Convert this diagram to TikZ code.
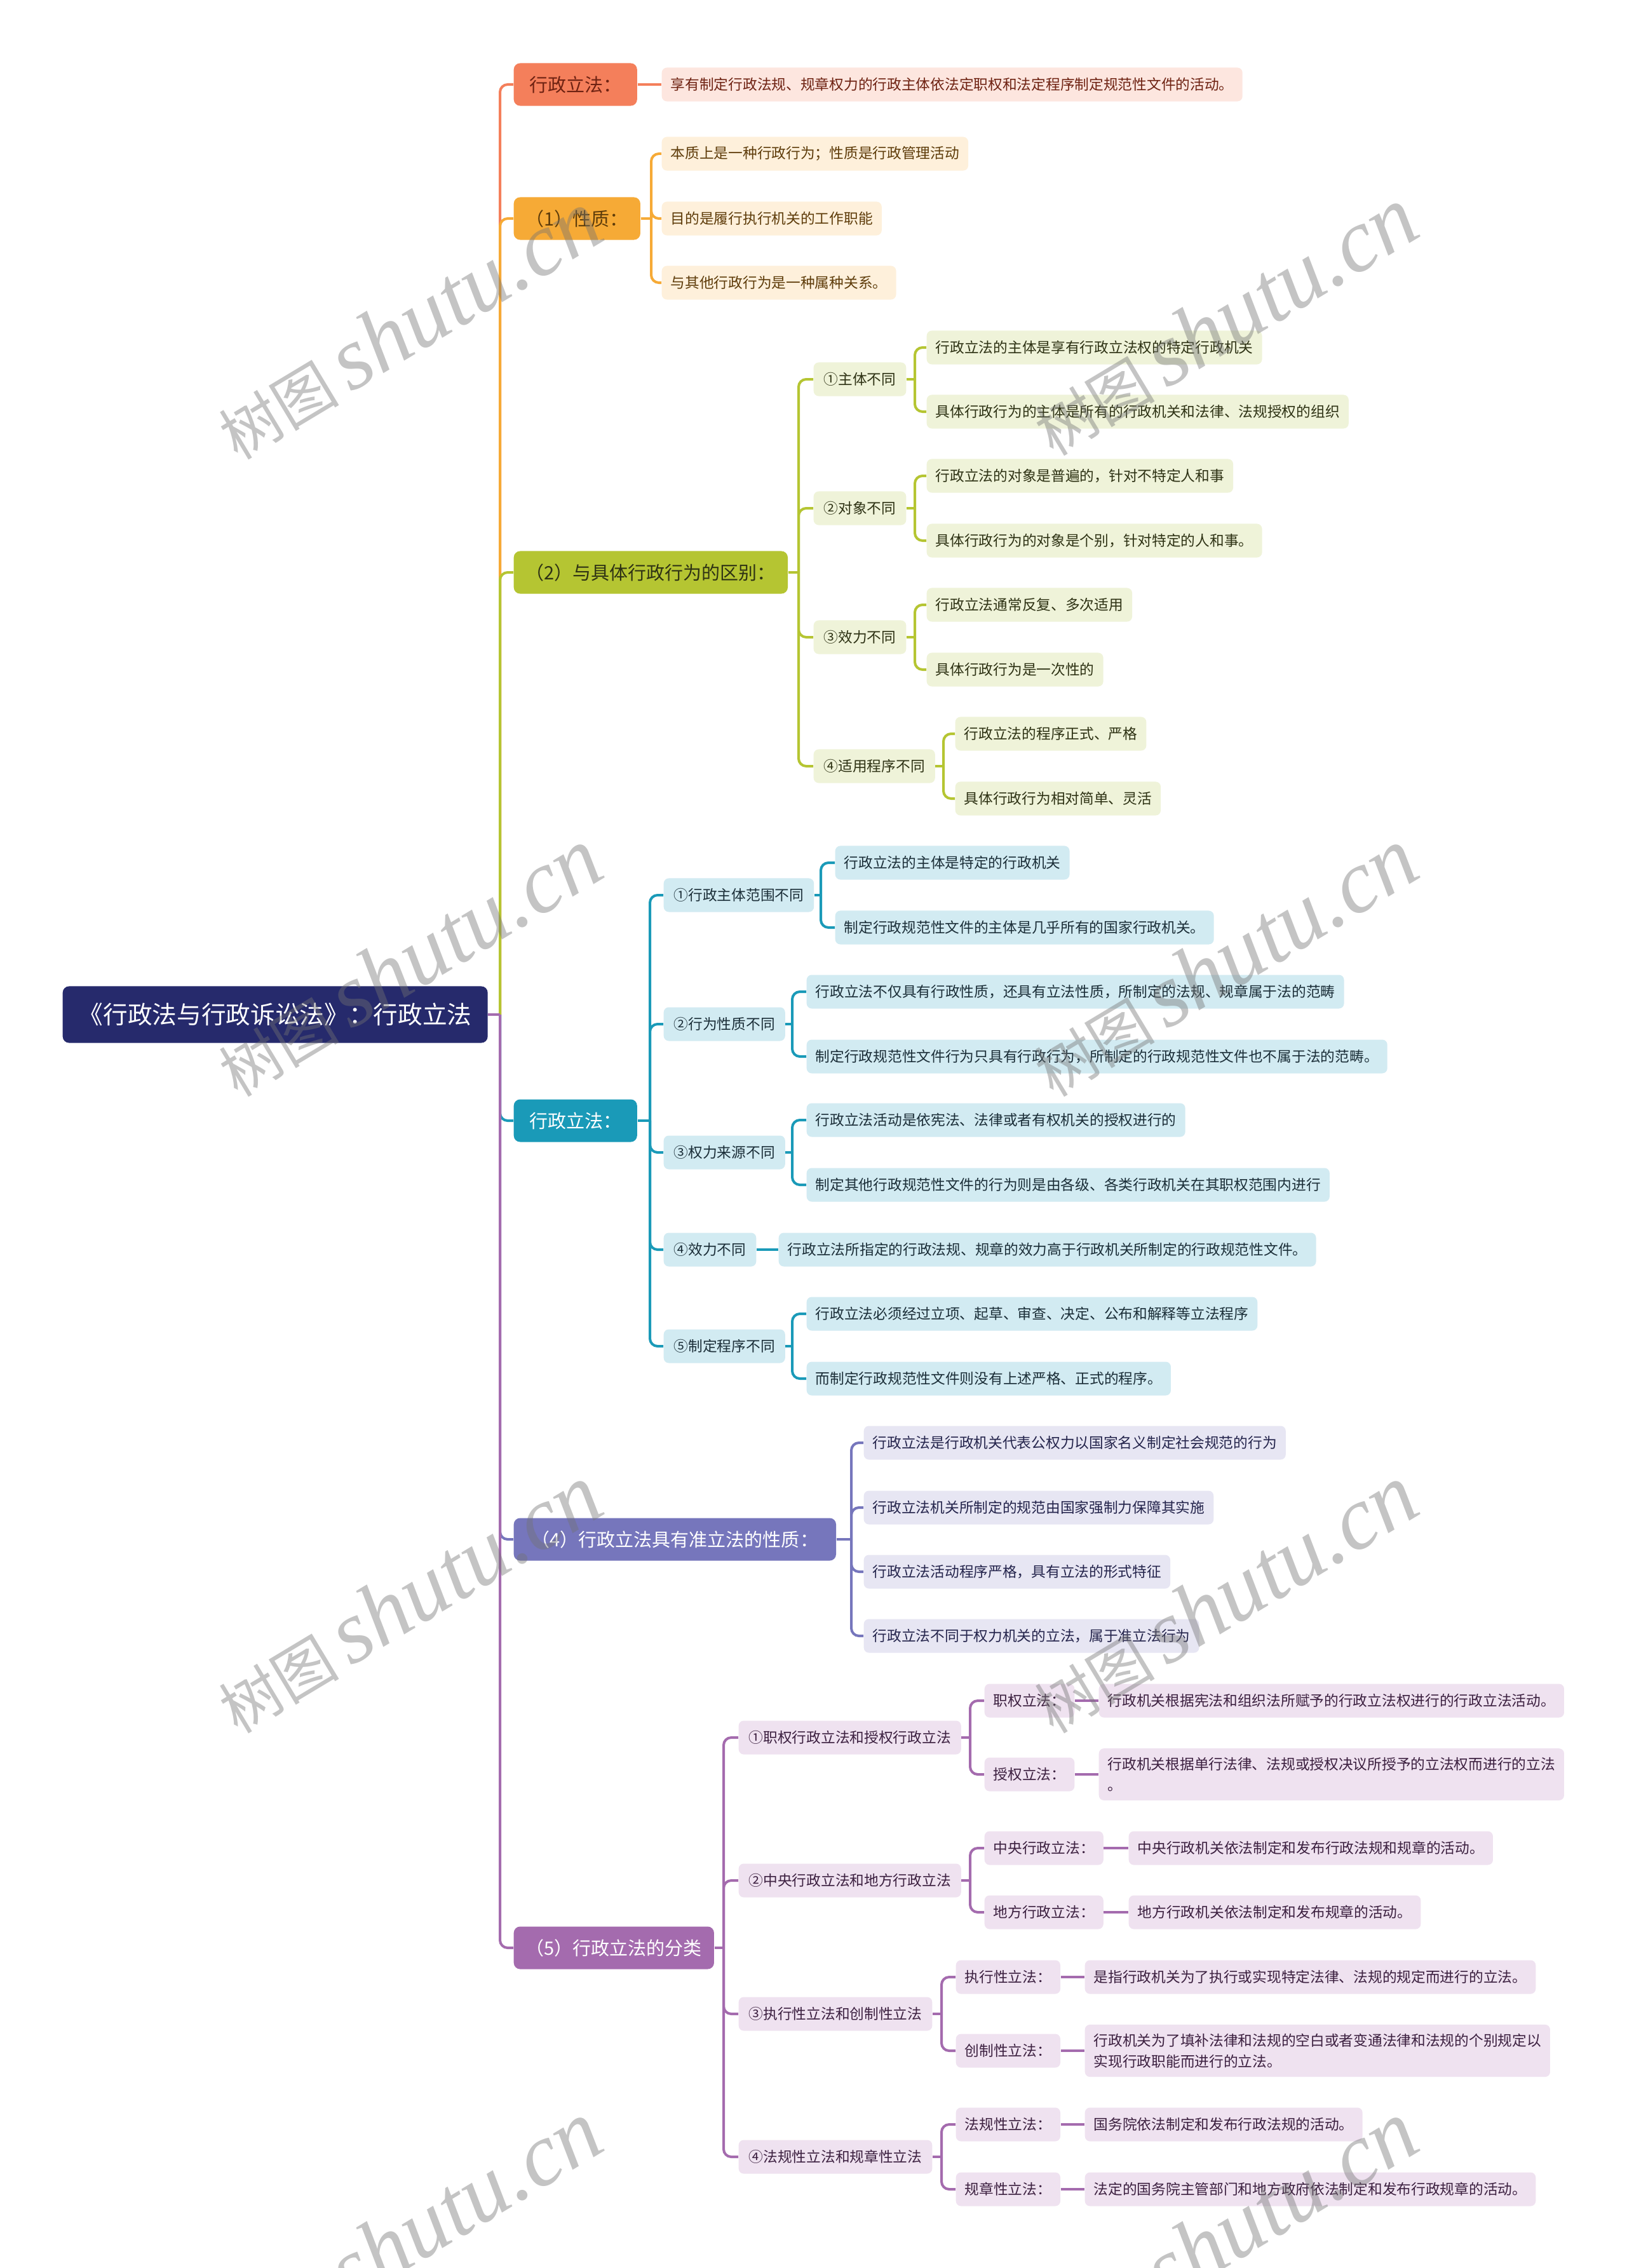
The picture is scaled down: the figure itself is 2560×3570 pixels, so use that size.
\documentclass[tikz,border=0pt]{standalone}
\usepackage{fontspec}
\setmainfont{Noto Sans CJK SC}
\newfontfamily\wmfont{Liberation Serif}

\definecolor{rootc}{HTML}{262A6C}
\definecolor{redc}{HTML}{F47F5B}
\definecolor{redl}{HTML}{FDE6DF}
\definecolor{redt}{HTML}{6E2212}
\definecolor{orac}{HTML}{F6AA36}
\definecolor{oral}{HTML}{FEF0DB}
\definecolor{orat}{HTML}{5E3C0A}
\definecolor{grnc}{HTML}{B5C532}
\definecolor{grnl}{HTML}{EFF3D9}
\definecolor{grnt}{HTML}{2E3214}
\definecolor{tlc}{HTML}{1A9AB8}
\definecolor{tll}{HTML}{D2EBF2}
\definecolor{tlt}{HTML}{1B2E38}
\definecolor{slc}{HTML}{7676BC}
\definecolor{sll}{HTML}{E7E6F3}
\definecolor{slt}{HTML}{24244C}
\definecolor{ppc}{HTML}{A46BAE}
\definecolor{ppl}{HTML}{EFE2F0}
\definecolor{ppt}{HTML}{3C2040}

\begin{document}
\begin{tikzpicture}
		[x=0.01cm, y=-0.01cm,
		rootbox/.style={fill=rootc, text=white, rounded corners=0.1cm, inner xsep=0.25cm, minimum height=0.89cm, font=\fontsize{11}{13}\selectfont, anchor=west},
		mainbox/.style={rounded corners=0.1cm, inner xsep=0.19cm, minimum height=0.67cm, minimum width=1.94cm, font=\fontsize{8.25}{10}\selectfont, anchor=west},
		leafbox/.style={rounded corners=0.08cm, inner xsep=0.14cm, inner ysep=0.14cm, minimum height=0.53cm, font=\fontsize{6.46}{9.4}\selectfont, align=left, anchor=west},
		levbox/.style={leafbox, inner xsep=0.16cm},
		leafr/.style={leafbox, fill=redl, text=redt},
		leafo/.style={leafbox, fill=oral, text=orat},
		leafg/.style={leafbox, fill=grnl, text=grnt},
		leaft/.style={leafbox, fill=tll, text=tlt},
		leafs/.style={leafbox, fill=sll, text=slt},
		leafp/.style={leafbox, fill=ppl, text=ppt},
		link/.style={line width=0.04cm, rounded corners=0.12cm},
		wmark/.style={rotate=31, text=black!55, text opacity=0.42}]
		\useasboundingbox (0,0) rectangle (2560,3570);
		\fill[white] (0,0) rectangle (2560,3570);
		
		\node[rootbox] (root) at (98,1597) {《行政法与行政诉讼法》：行政立法};
		\coordinate (rj) at (787,1597);
		
		\node[mainbox, fill=redc, text=redt] (m1) at (808,133) {行政立法：};
		\node[mainbox, fill=orac, text=orat] (m2) at (808,344) {（1）性质：};
		\node[mainbox, fill=grnc, text=grnt] (m3) at (808,901) {（2）与具体行政行为的区别：};
		\node[mainbox, fill=tlc, text=white] (m4) at (808,1764) {行政立法：};
		\node[mainbox, fill=slc, text=white, inner xsep=0.28cm] (m5) at (808,2423) {（4）行政立法具有准立法的性质：};
		\node[mainbox, fill=ppc, text=white] (m6) at (808,3066) {（5）行政立法的分类};
		
		% trunk, drawn top to bottom
		\draw[link, redc] (rj) |- (m1.west);
		\draw[link, orac] (rj) |- (m2.west);
		\draw[link, grnc] (rj) |- (m3.west);
		\draw[link, tlc] (rj) |- (m4.west);
		\draw[link, slc] (rj) |- (m5.west);
		\draw[link, ppc] (rj) |- (m6.west);
		\draw[link, ppc] (root.east) -- (rj);
		
		% (0)
		\node[leafr] (r1) at (1041,133) {享有制定行政法规、规章权力的行政主体依法定职权和法定程序制定规范性文件的活动。};
		\draw[link, redc] (m1.east) -- (r1.west);
		
		% (1)
		\coordinate (m2j) at (1025,344);
		\draw[link, orac] (m2.east) -- (m2j);
		\foreach \i/\y/\t in {1/242/本质上是一种行政行为；性质是行政管理活动, 2/344/目的是履行执行机关的工作职能, 3/445/与其他行政行为是一种属种关系。}
		{
			\node[leafo] (o\i) at (1041,\y) {\t};
			\draw[link, orac] (m2j) |- (o\i.west);
		}
		
		% (2)
		\coordinate (m3j) at (1257,901);
		\draw[link, grnc] (m3.east) -- (m3j);
		\foreach \i/\y/\bx/\t/\ya/\ta/\yb/\tb in {
			1/597/1440/①主体不同/547/行政立法的主体是享有行政立法权的特定行政机关/648/具体行政行为的主体是所有的行政机关和法律、法规授权的组织,
			2/800/1440/②对象不同/749/行政立法的对象是普遍的，针对不特定人和事/851/具体行政行为的对象是个别，针对特定的人和事。,
			3/1003/1440/③效力不同/952/行政立法通常反复、多次适用/1054/具体行政行为是一次性的,
			4/1206/1485/④适用程序不同/1155/行政立法的程序正式、严格/1257/具体行政行为相对简单、灵活}
		{
			\node[leafg, levbox] (g\i) at (1280,\y) {\t};
			\draw[link, grnc] (m3j) |- (g\i.west);
			\coordinate (gj\i) at (\bx,\y);
			\draw[link, grnc] (g\i.east) -- (gj\i);
			\node[leafg] (gu\i) at (\bx+18,\ya) {\ta};
			\node[leafg] (gl\i) at (\bx+18,\yb) {\tb};
			\draw[link, grnc] (gj\i) |- (gu\i.west);
			\draw[link, grnc] (gj\i) |- (gl\i.west);
		}
		
		% (3)
		\coordinate (m4j) at (1023,1764);
		\draw[link, tlc] (m4.east) -- (m4j);
		\foreach \i/\y/\bx/\t/\ya/\ta/\yb/\tb in {
			1/1409/1292/①行政主体范围不同/1358/行政立法的主体是特定的行政机关/1460/制定行政规范性文件的主体是几乎所有的国家行政机关。,
			2/1612/1247/②行为性质不同/1561/行政立法不仅具有行政性质，还具有立法性质，所制定的法规、规章属于法的范畴/1663/制定行政规范性文件行为只具有行政行为，所制定的行政规范性文件也不属于法的范畴。,
			3/1814/1247/③权力来源不同/1763/行政立法活动是依宪法、法律或者有权机关的授权进行的/1865/制定其他行政规范性文件的行为则是由各级、各类行政机关在其职权范围内进行,
			5/2119/1247/⑤制定程序不同/2068/行政立法必须经过立项、起草、审查、决定、公布和解释等立法程序/2170/而制定行政规范性文件则没有上述严格、正式的程序。}
		{
			\node[leaft, levbox] (t\i) at (1044,\y) {\t};
			\draw[link, tlc] (m4j) |- (t\i.west);
			\coordinate (tj\i) at (\bx,\y);
			\draw[link, tlc] (t\i.east) -- (tj\i);
			\node[leaft] (tu\i) at (\bx+22,\ya) {\ta};
			\node[leaft] (tl\i) at (\bx+22,\yb) {\tb};
			\draw[link, tlc] (tj\i) |- (tu\i.west);
			\draw[link, tlc] (tj\i) |- (tl\i.west);
		}
		\node[leaft, levbox] (t4) at (1044,1967) {④效力不同};
		\node[leaft] (tu4) at (1225,1967) {行政立法所指定的行政法规、规章的效力高于行政机关所制定的行政规范性文件。};
		\draw[link, tlc] (m4j) |- (t4.west);
		\draw[link, tlc] (t4.east) -- (tu4.west);
		
		% (4)
		\coordinate (m5j) at (1340,2423);
		\draw[link, slc] (m5.east) -- (m5j);
		\foreach \i/\y/\t in {1/2271/行政立法是行政机关代表公权力以国家名义制定社会规范的行为, 2/2373/行政立法机关所制定的规范由国家强制力保障其实施, 3/2474/行政立法活动程序严格，具有立法的形式特征, 4/2575/行政立法不同于权力机关的立法，属于准立法行为}
		{
			\node[leafs] (s\i) at (1359,\y) {\t};
			\draw[link, slc] (m5j) |- (s\i.west);
		}
		
		% (5)
		\coordinate (m6j) at (1139,3066);
		\draw[link, ppc] (m6.east) -- (m6j);
		\foreach \i/\y/\bx/\lx/\t/\ya/\ka/\ta/\yb/\kb/\tb in {
			1/2735/1527/1729/①职权行政立法和授权行政立法/2677/职权立法：/行政机关根据宪法和组织法所赋予的行政立法权进行的行政立法活动。/2793/授权立法：/{行政机关根据单行法律、法规或授权决议所授予的立法权而进行的立法\\。},
			2/2960/1527/1776/②中央行政立法和地方行政立法/2909/中央行政立法：/中央行政机关依法制定和发布行政法规和规章的活动。/3010/地方行政立法：/地方行政机关依法制定和发布规章的活动。,
			3/3170/1482/1707/③执行性立法和创制性立法/3112/执行性立法：/是指行政机关为了执行或实现特定法律、法规的规定而进行的立法。/3228/创制性立法：/{行政机关为了填补法律和法规的空白或者变通法律和法规的个别规定以\\实现行政职能而进行的立法。},
			4/3395/1482/1707/④法规性立法和规章性立法/3344/法规性立法：/国务院依法制定和发布行政法规的活动。/3446/规章性立法：/法定的国务院主管部门和地方政府依法制定和发布行政规章的活动。}
		{
			\node[leafp, levbox] (p\i) at (1162,\y) {\t};
			\draw[link, ppc] (m6j) |- (p\i.west);
			\coordinate (pj\i) at (\bx,\y);
			\draw[link, ppc] (p\i.east) -- (pj\i);
			\node[leafp] (pu\i) at (\bx+22,\ya) {\ka};
			\node[leafp] (pl\i) at (\bx+22,\yb) {\kb};
			\draw[link, ppc] (pj\i) |- (pu\i.west);
			\draw[link, ppc] (pj\i) |- (pl\i.west);
			\node[leafp] (pua\i) at (\lx,\ya) {\ta};
			\node[leafp] (pla\i) at (\lx,\yb) {\tb};
			\draw[link, ppc] (pu\i.east) -- (pua\i.west);
			\draw[link, ppc] (pl\i.east) -- (pla\i.west);
		}
		
		% watermark
		\foreach \x/\y [count=\k] in {643/512, 1927/506, 643/1515, 1927/1515, 643/2517, 1927/2517, 643/3519, 1927/3519}
		\node[wmark] (w\k) at (\x,\y) {{\fontsize{27}{27}\selectfont 树图}\hspace{0.18cm}{\wmfont\itshape\fontsize{40}{40}\selectfont shutu.cn}};
\end{tikzpicture}
\end{document}
